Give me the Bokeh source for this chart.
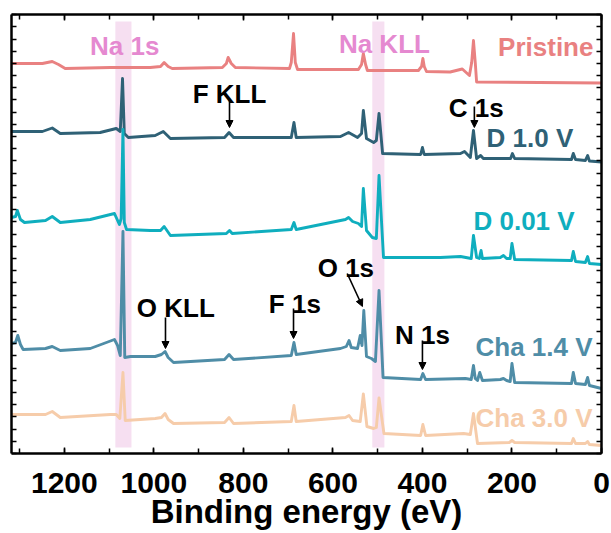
from bokeh.plotting import figure
from bokeh.models import (Range1d, LinearAxis, SingleIntervalTicker, CustomJSTickFormatter,
                          ColumnDataSource, Arrow, NormalHead)
from bokeh.core.properties import value
from bokeh.embed import file_html
from bokeh.resources import INLINE

# ---------------- data (binding energy in eV, stacked intensity in a.u.) ----------------
pristine_ev = [1318, 1249, 1227, 1213, 1198, 1097, 1008, 985, 977, 968, 959, 847, 838, 834, 827, 818,
               697, 693, 688, 684, 679, 543, 536, 532, 527, 523, 409, 402, 399, 396, 391, 338, 311,
               295, 290, 286, 282, 279, 0]
pristine_int = [390, 390, 392, 389, 385, 386, 386, 387, 391, 387, 385, 386, 390, 396, 390, 386,
                385, 391, 420, 391, 384, 384, 389, 400, 389, 383, 383, 387, 395, 387, 382, 381.5, 384.5,
                378, 391, 413, 391, 371.5, 370.5]

d10_ev = [1318, 1249, 1227, 1209, 1120, 1084, 1075, 1070, 1066, 1057, 997, 979, 963, 842, 832, 822,
          693, 687, 682, 583, 565, 545, 536, 532, 525, 509, 503, 497, 489, 404, 400, 396, 315, 306,
          293, 286, 279, 270, 264, 203, 199, 194, 67, 63, 58, 36, 31, 27, 0]
d10_int = [322, 322, 325.5, 320, 321, 325, 322, 375, 320, 316, 318, 322, 315, 316, 321, 316,
           316, 331, 316, 317, 321, 316, 320, 343, 315, 311, 313, 340, 300, 299, 306, 299, 300, 302,
           296, 323, 295, 298, 295, 295, 300, 295, 294, 300, 294, 293, 298, 292.5, 291.5]

d001_ev = [1318, 1309, 1305, 1298, 1289, 1242, 1227, 1209, 1142, 1088, 1084, 1077, 1073, 1069, 1066,
           1061, 1008, 985, 977, 963, 838, 831, 825, 693, 687, 682, 572, 565, 556, 543, 536, 532,
           525, 512, 503, 497, 487, 360, 315, 291, 286, 279, 273, 269, 266, 226, 219, 212, 204,
           200, 194, 67, 63, 58, 36, 31, 27, 0]
d001_int = [236, 237, 243, 234, 231, 233, 237, 231, 234, 240, 236, 229, 235, 324, 231,
            224, 223, 223, 227, 218, 220, 223, 220, 224, 231, 224, 234, 236, 232, 230, 227, 265,
            223, 216, 215, 278, 196, 196, 197, 195, 218, 196, 195, 203, 195, 196, 198, 195, 195,
            210, 194, 193, 202, 192, 191, 197, 190, 189]

c14_ev = [1318, 1309, 1304, 1298, 1292, 1242, 1227, 1209, 1142, 1088, 1081, 1075, 1069, 1065, 1052,
          997, 983, 975, 968, 956, 842, 832, 822, 693, 687, 682, 583, 570, 564, 559, 545, 539, 535,
          531, 525, 514, 505, 497, 488, 404, 399, 393, 304, 291, 286, 282, 277, 272, 266, 226, 219,
          212, 204, 200, 194, 67, 63, 58, 36, 31, 27, 0]
c14_int = [110, 111, 118, 109, 104, 105, 107, 103, 105, 114, 108, 98, 222, 96, 97,
           97, 99, 102, 96, 91, 94, 99, 94, 98, 111, 99, 105, 107, 113, 106, 105, 118, 108,
           143, 97, 95, 92, 163, 76, 74, 80, 74, 75, 74, 88, 75, 73, 81, 73, 74, 75,
           73, 72, 90, 71, 70, 81, 70, 69, 76, 68, 65]

c30_ev = [1318, 1242, 1227, 1209, 1097, 1084, 1076, 1069, 1064, 997, 983, 975, 968, 956, 842, 832, 822,
          693, 687, 682, 572, 564, 556, 539, 532, 524, 509, 503, 497, 486, 404, 399, 393, 308, 293,
          286, 277, 206, 200, 194, 67, 63, 58, 36, 31, 27, 0]
c30_int = [39, 39, 42, 36, 39, 39, 35, 81, 33, 35, 36, 40, 34, 30, 31, 36, 30,
           32, 48, 32, 36, 38, 33, 32, 59.5, 27, 25, 26, 55.5, 20, 18, 29, 18, 20, 19,
           40, 10, 11, 13, 11, 10, 15, 10, 10, 12, 9, 8]

series_names = ["Pristine", "D 1.0 V", "D 0.01 V", "Cha 1.4 V", "Cha 3.0 V"]
series_colors = ["#E98181", "#2F6176", "#0FAEBE", "#4F8DA7", "#F6CCAA"]
series_ev = [pristine_ev, d10_ev, d001_ev, c14_ev, c30_ev]
series_int = [pristine_int, d10_int, d001_int, c14_int, c30_int]
series_label_ev = [18, 63, 60, 20, 20]
series_label_int = [407, 316, 233, 107, 36]

band_left = [1086, 512]
band_right = [1050, 485]
band_bottom = [6, 6]
band_top = [432, 432]
band_names = ["Na 1s", "Na KLL"]
band_label_ev = [1065, 485]
band_label_int = [408, 410]

peak_names = ["F KLL", "C 1s", "O 1s", "F 1s", "O KLL", "N 1s"]
peak_label_ev = [831, 280, 571, 685, 951, 400]
peak_label_int = [360, 346, 186, 150, 146, 119]
arrow_x0 = [831, 284, 568, 688, 974, 400]
arrow_y0 = [355, 347, 180, 145, 136, 113]
arrow_x1 = [831, 284, 534, 688, 974, 400]
arrow_y1 = [326, 326, 147, 115, 105, 84]

# ---------------- figure ----------------
FONT = value("Liberation Sans")

p = figure(width=611, height=533, output_backend="svg", toolbar_location=None,
           x_range=Range1d(1318, 0), y_range=Range1d(0, 439),
           min_border_left=11, min_border_right=10, min_border_top=14, min_border_bottom=80,
           x_axis_location=None, y_axis_location=None)
p.background_fill_color = "white"
p.border_fill_color = "white"
p.outline_line_color = None
p.grid.visible = False

# highlight bands
p.quad(left=band_left, right=band_right, bottom=band_bottom, top=band_top,
       fill_color="#F6DFF1", line_color=None)

for ev, inten, col in zip(series_ev, series_int, series_colors):
    p.line(ev, inten, line_color=col, line_width=2.9, line_join="round")

# axes
def style_axis(ax, labels):
    ax.axis_line_width = 2.5
    ax.axis_line_color = "black"
    ax.major_tick_line_color = "black"
    ax.minor_tick_line_color = "black"
    ax.major_tick_line_width = 1.5
    ax.minor_tick_line_width = 1.5
    ax.major_tick_out = 0
    ax.minor_tick_out = 0
    if not labels:
        ax.formatter = CustomJSTickFormatter(code="return '';")
        ax.major_label_standoff = 0

xb = LinearAxis(ticker=SingleIntervalTicker(interval=200, num_minor_ticks=2))
style_axis(xb, True)
xb.major_tick_in = 6
xb.minor_tick_in = 5
xb.axis_label = "Binding energy (eV)"
xb.axis_label_text_font = "Liberation Sans"
xb.axis_label_text_font_style = "bold"
xb.axis_label_text_font_size = "33px"
xb.axis_label_text_color = "black"
xb.axis_label_standoff = -3
xb.major_label_text_font = "Liberation Sans"
xb.major_label_text_font_style = "bold"
xb.major_label_text_font_size = "30px"
xb.major_label_text_color = "black"
xb.major_label_standoff = 19
p.add_layout(xb, "below")

xt = LinearAxis(ticker=SingleIntervalTicker(interval=200, num_minor_ticks=2))
style_axis(xt, False)
xt.major_tick_in = 6
xt.minor_tick_in = 5
p.add_layout(xt, "above")

for side in ("left", "right"):
    ya = LinearAxis(ticker=SingleIntervalTicker(interval=12.19, num_minor_ticks=0))
    style_axis(ya, False)
    ya.major_tick_in = 5
    ya.minor_tick_in = 0
    p.add_layout(ya, side)

# band labels
p.text(x=band_label_ev, y=band_label_int, text=band_names, text_color="#E589D0",
       text_font=FONT, text_font_style="bold", text_font_size="26px",
       text_align="center", text_baseline="alphabetic")

# series labels
lab_src = ColumnDataSource(dict(x=series_label_ev, y=series_label_int, t=series_names, c=series_colors))
p.text(x="x", y="y", text="t", text_color="c", source=lab_src,
       text_font=FONT, text_font_style="bold", text_font_size="26px",
       text_align="right", text_baseline="alphabetic")

# peak labels and arrows
p.text(x=peak_label_ev, y=peak_label_int, text=peak_names, text_color="black",
       text_font=FONT, text_font_style="bold", text_font_size="26px",
       text_align="center", text_baseline="alphabetic")
for xs, ys, xe, ye in zip(arrow_x0, arrow_y0, arrow_x1, arrow_y1):
    p.add_layout(Arrow(x_start=xs, y_start=ys, x_end=xe, y_end=ye, line_width=1.6,
                       line_color="black",
                       end=NormalHead(size=7, fill_color="black", line_color="black", line_width=1)))

open("out.html", "w").write(file_html(p, INLINE))
